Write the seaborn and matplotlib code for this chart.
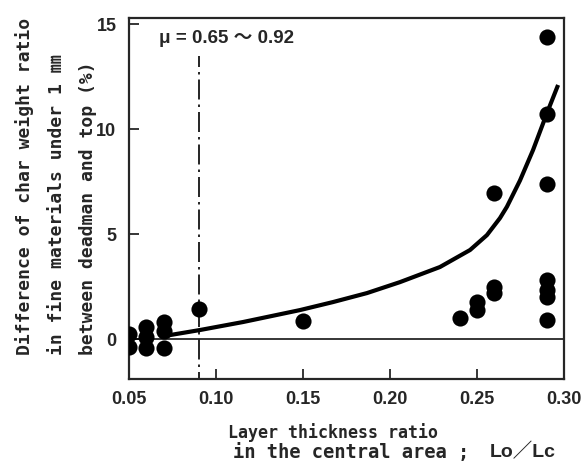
import matplotlib
matplotlib.use("Agg")
import matplotlib.pyplot as plt
import pandas as pd
import seaborn as sns

sns.set_style("ticks")
plt.rcParams["font.family"] = ["Liberation Sans", "Noto Sans CJK JP"]

# measured points
x_points = [0.05, 0.05, 0.06, 0.06, 0.06, 0.07, 0.07, 0.07, 0.09, 0.15,
            0.24, 0.25, 0.25, 0.26, 0.26, 0.26,
            0.29, 0.29, 0.29, 0.29, 0.29, 0.29, 0.29]
y_points = [0.25, -0.4, 0.55, 0.1, -0.45, 0.8, 0.4, -0.45, 1.45, 0.85,
            1.0, 1.75, 1.4, 6.95, 2.5, 2.2,
            14.4, 10.7, 7.4, 2.8, 2.35, 2.0, 0.9]

# fitted curve
x_curve = [0.068, 0.0736, 0.0908, 0.1155, 0.1483, 0.1672, 0.1868, 0.2057,
           0.2287, 0.246, 0.2557, 0.2632, 0.2672, 0.2747, 0.2822, 0.2902, 0.2966]
y_curve = [0.1, 0.19, 0.43, 0.81, 1.38, 1.76, 2.19, 2.71,
           3.43, 4.24, 4.95, 5.76, 6.3, 7.55, 9.0, 10.76, 12.1]

x_ticks = [0.05, 0.10, 0.15, 0.20, 0.25, 0.30]
x_tick_labels = ["0.05", "0.10", "0.15", "0.20", "0.25", "0.30"]
y_ticks = [0, 5, 10, 15]

df_pts = pd.DataFrame({"x": x_points, "y": y_points})
df_curve = pd.DataFrame({"x": x_curve, "y": y_curve})

mono = ["DejaVu Sans Mono", "Noto Sans CJK JP"]

fig = plt.figure(figsize=(5.85, 4.61), dpi=100)
ax = fig.add_axes([0.2205, 0.178, 0.7436, 0.783])

ax.axhline(0, color="black", lw=1.1, zorder=1)
ax.plot([0.09, 0.09], [-2.5, 13.5], color="black", lw=1.2,
        linestyle=(0, (12, 3, 1.5, 3)), zorder=1)

sns.lineplot(data=df_curve, x="x", y="y", ax=ax, color="black", lw=3,
             sort=True, estimator=None, zorder=2, solid_joinstyle="round",
             solid_capstyle="butt")
sns.scatterplot(data=df_pts, x="x", y="y", ax=ax, color="black", s=135,
                edgecolor="black", linewidth=0, zorder=3)

ax.text(0.067, 14.3, "μ = 0.65 ～ 0.92", fontsize=13.5, fontweight="bold",
        va="center", ha="left")

ax.set_xlim(0.05, 0.30)
ax.set_ylim(-1.9, 15.29)
ax.set_xticks(x_ticks)
ax.set_xticklabels(x_tick_labels)
ax.set_yticks(y_ticks)
ax.tick_params(direction="in", length=7, width=1.3, labelsize=13)
ax.tick_params(axis="y", pad=9)
ax.tick_params(axis="x", pad=9)
for lab in ax.get_xticklabels() + ax.get_yticklabels():
    lab.set_fontweight("bold")
for sp in ax.spines.values():
    sp.set_linewidth(1.6)
    sp.set_visible(True)

ax.set_xlabel("")
ax.set_ylabel("")

# y label: three lines, starting from the same height
y_lines = ["Difference of char weight ratio",
           "in fine materials under 1 ㎜",
           "between deadman and top (%)"]
for xc, txt in zip([25, 57, 88], y_lines):
    fig.text(xc / 585, 1 - 355 / 461, txt, family=mono, fontsize=13,
             fontweight="bold", rotation=90, ha="center", va="bottom")

fig.text(333 / 585, 1 - 433 / 461, "Layer thickness ratio", family=mono,
         fontsize=12, fontweight="bold", ha="center", va="center")
fig.text(233 / 585, 1 - 452 / 461, "in the central area ; ", family=mono,
         fontsize=13.5, fontweight="bold", ha="left", va="center")
fig.text(490 / 585, 1 - 452 / 461, "Lo／Lc", fontsize=14, fontweight="bold",
         ha="left", va="center")

fig.savefig("out.png", dpi=100)
